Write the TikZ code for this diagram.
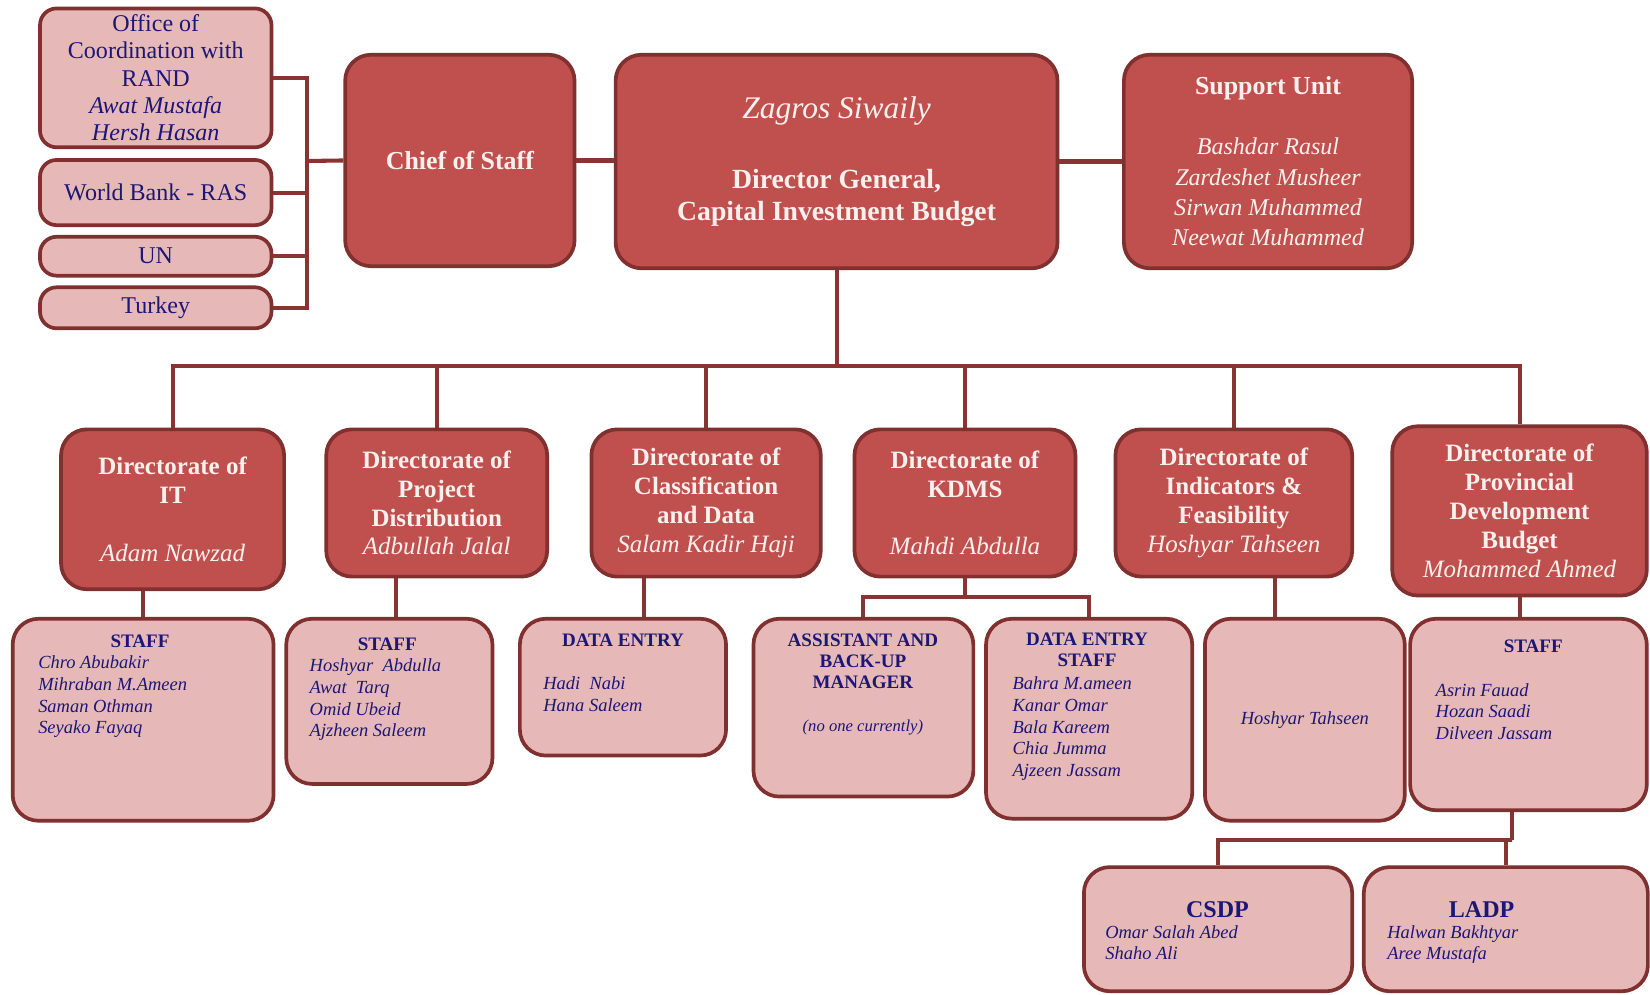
\documentclass[tikz,border=0pt]{standalone}
\usepackage{fontspec}
\setmainfont{Liberation Serif}
\usetikzlibrary{positioning}

\definecolor{boxred}{RGB}{192,80,77}
\definecolor{edgered}{RGB}{128,48,46}
\definecolor{linkred}{RGB}{135,52,50}
\definecolor{boxpink}{RGB}{230,185,184}
\definecolor{navy}{RGB}{28,22,118}
\definecolor{cream}{RGB}{250,240,238}

\begin{document}
\begin{tikzpicture}[x=0.02cm,y=-0.02cm,
    dark box/.style={draw=edgered,fill=boxred,line width=2pt,rounded corners=14pt,inner sep=0pt,
      text=cream,align=center,font=\fontsize{13.5}{15.6}\selectfont\bfseries},
    pink box/.style={draw=edgered,fill=boxpink,line width=2pt,rounded corners=14pt,inner sep=0pt,
      text=navy,align=center},
    side box/.style={pink box,rounded corners=9pt,minimum width=4.4cm,font=\fontsize{13}{14.8}\selectfont},
    head/.style={inner sep=0pt,text=navy,align=center,font=\fontsize{10.3}{11.5}\selectfont\bfseries},
    names/.style={anchor=north west,inner sep=0pt,text=navy,align=left,font=\fontsize{10}{11.7}\selectfont\itshape},
    link/.style={draw=linkred,line width=2.2pt}]

\useasboundingbox (0,0) rectangle (1568,945);

% top level
\node[side box,minimum height=2.64cm] (rand) at (148,74)
  {Office of\\Coordination with\\RAND\\\textit{Awat Mustafa}\\\textit{Hersh Hasan}};
\node[side box,minimum height=1.24cm] (wb)  at (148,183)   {World Bank - RAS};
\node[side box,minimum height=0.74cm] (un)  at (148,243.5) {UN};
\node[side box,minimum height=0.78cm] (tr)  at (148,292.5) {Turkey};

\node[dark box,minimum width=4.36cm,minimum height=4.02cm,font=\fontsize{14}{16}\selectfont\bfseries]
  (cos) at (437,152.5) {Chief of Staff};
\node[dark box,minimum width=8.4cm,minimum height=4.06cm,font=\fontsize{15}{17}\selectfont\bfseries]
  (dg) at (795,153.5)
  {{\fontsize{17}{20}\selectfont\normalfont\itshape Zagros Siwaily}\\[21pt]Director General,\\Capital Investment Budget};
\node[dark box,minimum width=5.48cm,minimum height=4.06cm,font=\fontsize{13}{16.4}\selectfont\bfseries]
  (sup) at (1205,153.5)
  {{\fontsize{14}{16}\selectfont Support Unit}\\[16pt]{\normalfont\itshape Bashdar Rasul}\\
   {\normalfont\itshape Zardeshet Musheer}\\{\normalfont\itshape Sirwan Muhammed}\\{\normalfont\itshape Neewat Muhammed}};

% directorates
\node[dark box,minimum width=4.24cm,minimum height=3.04cm] (dit) at (164,484)
  {Directorate of\\IT\\[15.6pt]{\normalfont\itshape Adam Nawzad}};
\node[dark box,minimum width=4.2cm,minimum height=2.8cm] (dpd) at (415,478)
  {Directorate of\\Project\\Distribution\\{\normalfont\itshape Adbullah Jalal}};
\node[dark box,minimum width=4.36cm,minimum height=2.8cm] (dcl) at (671,478)
  {Directorate of\\Classification\\and Data\\{\normalfont\itshape Salam Kadir Haji}};
\node[dark box,minimum width=4.2cm,minimum height=2.8cm] (dkd) at (917,478)
  {Directorate of\\KDMS\\[15.6pt]{\normalfont\itshape Mahdi Abdulla}};
\node[dark box,minimum width=4.5cm,minimum height=2.8cm] (din) at (1172.5,478)
  {Directorate of\\Indicators \&\\Feasibility\\{\normalfont\itshape Hoshyar Tahseen}};
\node[dark box,minimum width=4.84cm,minimum height=3.22cm] (dpr) at (1444,485.5)
  {Directorate of\\Provincial\\Development\\Budget\\{\normalfont\itshape Mohammed Ahmed}};

% staff boxes
\node[pink box,minimum width=4.96cm,minimum height=3.84cm] (sit) at (136,684) {};
\node[pink box,minimum width=3.92cm,minimum height=3.14cm] (spd) at (370,666.5) {};
\node[pink box,minimum width=3.92cm,minimum height=2.6cm]  (sde) at (592,653) {};
\node[pink box,minimum width=4.18cm,minimum height=3.38cm] (sas) at (820.5,672.5) {};
\node[pink box,minimum width=3.92cm,minimum height=3.8cm]  (sds) at (1035,683) {};
\node[pink box,minimum width=3.8cm,minimum height=3.84cm,font=\fontsize{10}{11.7}\selectfont\itshape]
  (sho) at (1240,684) {Hoshyar Tahseen};
\node[pink box,minimum width=4.5cm,minimum height=3.64cm]  (spr) at (1452.5,679) {};
\node[pink box,minimum width=5.1cm,minimum height=2.36cm]  (csd) at (1157.5,883) {};
\node[pink box,minimum width=5.4cm,minimum height=2.36cm]  (lad) at (1431,883) {};

% staff texts
\node[head] (sith) at (133,609) {STAFF};
\node[names] (sitn) at (36,623) {Chro Abubakir\\Mihraban M.Ameen\\Saman Othman\\Seyako Fayaq};
\node[head] (spdh) at (368,612) {STAFF};
\node[names] (spdn) at (294,626) {Hoshyar\ \ Abdulla\\Awat\ \ Tarq\\Omid Ubeid\\Ajzheen Saleem};
\node[head] (sdeh) at (592,608) {DATA ENTRY};
\node[names] (sden) at (516,643) {Hadi\ \ Nabi\\Hana Saleem};
\node[head] (sash) at (820,628.5) {ASSISTANT AND\\BACK-UP\\MANAGER};
\node[head,font=\fontsize{9}{11}\selectfont\itshape] (sasn) at (820,691) {(no one currently)};
\node[head] (sdsh) at (1033,617.5) {DATA ENTRY\\STAFF};
\node[names] (sdsn) at (962,643) {Bahra M.ameen\\Kanar Omar\\Bala Kareem\\Chia Jumma\\Ajzeen Jassam};
\node[head] (sprh) at (1457,614) {STAFF};
\node[names] (sprn) at (1364,649) {Asrin Fauad\\Hozan Saadi\\Dilveen Jassam};
\node[head,font=\fontsize{13}{15}\selectfont\bfseries] (csdh) at (1157,864) {CSDP};
\node[names] (csdn) at (1050,879) {Omar Salah Abed\\Shaho Ali};
\node[head,font=\fontsize{13}{15}\selectfont\bfseries] (ladh) at (1408,864) {LADP};
\node[names] (ladn) at (1318,879) {Halwan Bakhtyar\\Aree Mustafa};

% links
\coordinate (lbar) at (292,153);
\foreach \b in {rand,wb,un,tr}
  \draw[link] (\b.east) -| (lbar);
\draw[link] (lbar) -- (cos.west);
\draw[link] (cos.east) -- (cos.east -| dg.west);
\draw[link] (dg.east) -- (dg.east -| sup.west);

\coordinate (bus) at (797,348);
\foreach \d in {dit,dpd,dcl,dkd,din,dpr}
  \draw[link] (dg.south) |- (bus -| \d.north) -- (\d.north);

\draw[link] (sit.north) -- (sit.north |- dit.south);
\draw[link] ([xshift=0.12cm]spd.north) -- ([xshift=0.12cm]spd.north |- dpd.south);
\draw[link] ([xshift=0.4cm]sde.north) -- ([xshift=0.4cm]sde.north |- dcl.south);
\coordinate (kbus) at (917,567);
\draw[link] (dkd.south) -- (kbus);
\draw[link] (sas.north) |- (kbus) -| (sds.north);
\draw[link] ([xshift=-0.56cm]sho.north) -- ([xshift=-0.56cm]sho.north |- din.south);
\draw[link] (dpr.south) -- (dpr.south |- spr.north);

\coordinate (pbus) at (1437,798);
\draw[link] (pbus |- spr.south) -- (pbus);
\draw[link] (csd.north) |- (pbus) -| (lad.north);
\end{tikzpicture}
\end{document}
